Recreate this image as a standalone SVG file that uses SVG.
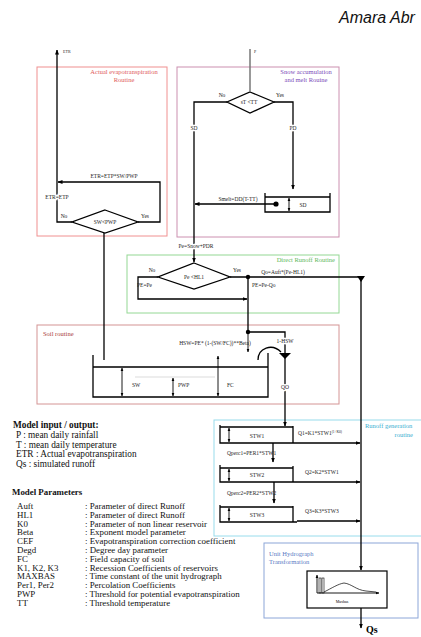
<svg xmlns="http://www.w3.org/2000/svg" width="421" height="637" viewBox="0 0 421 637">
<defs>
<marker id="a" viewBox="0 0 10 10" refX="9" refY="5" markerWidth="5" markerHeight="5" markerUnits="userSpaceOnUse" orient="auto-start-reverse"><path d="M0,1 L10,5 L0,9z" fill="#000"/></marker>
<marker id="s" viewBox="0 0 10 10" refX="9" refY="5" markerWidth="3.5" markerHeight="3.5" markerUnits="userSpaceOnUse" orient="auto-start-reverse"><path d="M0,1 L10,5 L0,9z" fill="#000"/></marker>
</defs>
<style>
.ln{fill:none;stroke:#000;stroke-width:1.3}
.th{fill:none;stroke:#000;stroke-width:0.9}
.bx{fill:none;stroke-width:1}
.t{font-family:"Liberation Serif",serif;font-size:5.5px;fill:#222}
.h{paint-order:stroke;stroke:#fff;stroke-width:2.5}
.ti{font-family:"Liberation Serif",serif;font-size:6.5px}
.p{font-family:"Liberation Serif",serif;font-size:8.9px;fill:#111}
.pi{font-family:"Liberation Serif",serif;font-size:9.3px;fill:#111}
.b{font-weight:bold}
</style>
<rect width="421" height="637" fill="#fff"/>
<text x="339" y="23" style="font-family:'Liberation Sans',sans-serif;font-style:italic;font-size:16px" fill="#111">Amara Abr</text>

<g id="boxes">
<g id="evap-routine"><rect class="bx" x="37" y="67" width="130" height="169" stroke="#f09090"/>
<text class="ti" x="124" y="74" text-anchor="middle" fill="#e05a5a">Actual evapotranspiration</text>
<text class="ti" x="124" y="82" text-anchor="middle" fill="#e05a5a">Routine</text></g>
<g id="snow-routine"><rect class="bx" x="177" y="67" width="162" height="170" stroke="#cc90b0"/>
<text class="ti" x="306" y="74" text-anchor="middle" fill="#7a4ab8">Snow accumulation</text>
<text class="ti" x="306" y="82" text-anchor="middle" fill="#7a4ab8">and melt Rouine</text></g>
<g id="direct-runoff"><rect class="bx" x="127" y="255" width="212" height="58" stroke="#94d894"/>
<text class="ti" x="335" y="262" text-anchor="end" fill="#5cb85c">Direct Runoff Routine</text></g>
<g id="soil-routine"><rect class="bx" x="37" y="325" width="302" height="79" stroke="#d49494"/>
<text class="ti" x="43" y="336" fill="#a83a3a">Soil routine</text></g>
<g id="runoff-generation"><rect class="bx" x="214" y="420" width="212" height="116" stroke="#98dcec"/>
<text class="ti" x="365" y="428" fill="#3aaed0">Runoff generation</text>
<text class="ti" x="413" y="437" text-anchor="end" fill="#3aaed0">routine</text></g>
<g id="unit-hydrograph"><rect class="bx" x="264" y="543" width="154" height="75" stroke="#8ca6d8"/>
<text class="ti" x="269" y="556" fill="#5a7cc4">Unit Hydrograph</text>
<text class="ti" x="269" y="564" fill="#5a7cc4">Transformation</text></g>
</g>

<g id="nodes">
<g id="d-sw"><polygon class="ln" fill="#fff" points="105,210 138,222 105,233 72,222"/>
<text class="t" x="105" y="224" text-anchor="middle">SW&lt;PWP</text></g>
<g id="d-t"><polygon class="ln" fill="#fff" points="250,92 274,102 250,113 227,102"/>
<text class="t" x="249" y="104" text-anchor="middle">sT &lt;TT</text></g>
<g id="d-pe"><polygon class="ln" fill="#fff" points="194,263 230,277 194,289 158,277"/>
<text class="t" x="194" y="279" text-anchor="middle">Pe &lt;HL1</text></g>
<g id="snow-tank"><path class="ln" d="M265,193 V212 H330 V193 M265,197 H330"/>
<path class="th" d="M289,198 V211" marker-start="url(#s)" marker-end="url(#s)"/>
<circle cx="276" cy="204" r="2.6" fill="#000"/>
<text class="t" x="303" y="207" text-anchor="middle">SD</text></g>
<g id="soil-tank"><path class="ln" d="M93,355 V397 H268 V353 M93,367 H268"/>
<path d="M135,377 H215" stroke="#ccc" stroke-width="0.7"/>
<path class="th" d="M122,368 V396" marker-start="url(#s)" marker-end="url(#s)"/>
<path class="th" d="M173,378 V396" marker-start="url(#s)" marker-end="url(#s)"/>
<path class="th" d="M218,356 V396" marker-start="url(#s)" marker-end="url(#s)"/>
<text class="t" x="132" y="387">SW</text><text class="t" x="178" y="387">PWP</text><text class="t" x="227" y="387">FC</text></g>
<g id="stw1"><path class="ln" d="M220,425 V443 H293 V426 M220,427 H293 M293,443 H297"/>
<path class="th" d="M229,428 V442" marker-start="url(#s)" marker-end="url(#s)"/>
<text class="t" x="257" y="438" text-anchor="middle">STW1</text></g>
<g id="stw2"><path class="ln" d="M220,465 V482 H293 V466 M220,468 H293 M293,482 H297"/>
<path class="th" d="M229,469 V481" marker-start="url(#s)" marker-end="url(#s)"/>
<text class="t" x="257" y="477" text-anchor="middle">STW2</text></g>
<g id="stw3"><path class="ln" d="M220,505 V522 H293 V506 M220,507 H293 M293,522 H297"/>
<path class="th" d="M229,508 V521" marker-start="url(#s)" marker-end="url(#s)"/>
<text class="t" x="257" y="517" text-anchor="middle">STW3</text></g>
<g id="uh"><rect x="307" y="571" width="80" height="37" fill="#fff" stroke="#000" stroke-width="1.2"/>
<path class="th" d="M317,593 V575" marker-end="url(#s)"/>
<path class="th" d="M317,593 H379" marker-end="url(#s)"/>
<rect x="319" y="578" width="2" height="15" fill="none" stroke="#000" stroke-width="0.6"/>
<rect x="322" y="578" width="2" height="15" fill="none" stroke="#000" stroke-width="0.6"/>
<path d="M324,592 C332,588 338,584 344,583 C352,584 356,590 366,591 L376,592" fill="none" stroke="#000" stroke-width="0.7"/>
<text x="342" y="603" text-anchor="middle" style="font-family:'Liberation Serif',serif;font-size:4px">Maxbas</text></g>
</g>

<g id="connectors">
<path class="ln" d="M72,222 H57 V50" marker-end="url(#a)"/>
<path class="ln" d="M138,222 H160 V182 H58" marker-end="url(#a)"/>
<path class="ln" d="M104,233 V360"/>
<path d="M250,49 V92" fill="none" stroke="#777" stroke-width="1.5"/>
<path class="ln" d="M227,102 H194 V262" marker-end="url(#a)"/>
<path class="ln" d="M274,102 H293 V189" marker-end="url(#a)"/>
<path class="ln" d="M276,204 H195" marker-end="url(#a)"/>
<path class="ln" d="M158,277 H138 V299 H247" marker-end="url(#a)"/>
<path class="ln" d="M230,277 H361 V570" marker-end="url(#a)"/>
<path d="M357,276 L365,276 L361,282z" fill="#000"/>
<circle cx="248" cy="277" r="2.2" fill="#000"/>
<path class="ln" d="M248,277 V332 H285 V354"/>
<circle cx="248" cy="332" r="2.2" fill="#000"/>
<path class="th" d="M248,332 V352" marker-end="url(#s)"/>
<path d="M279,353 L291,353 L285,359z" fill="#000"/>
<path class="ln" d="M258,360 C258,348 272,343 281,352"/>
<path class="ln" d="M285,358 V426" marker-end="url(#a)"/>
<path class="ln" d="M273,443 V462" marker-end="url(#a)"/>
<path class="ln" d="M274,482 V503" marker-end="url(#a)"/>
<path class="ln" d="M297,443 H360" marker-end="url(#a)"/>
<path class="ln" d="M297,482 H360" marker-end="url(#a)"/>
<path class="ln" d="M297,521 H360" marker-end="url(#a)"/>
<path class="ln" d="M361,608 V628" marker-end="url(#a)"/>
</g>

<g id="labels">
<text class="t" x="63" y="53" style="font-size:4px">ETR</text>
<text class="t" x="254" y="53" style="font-size:4px">P</text>
<text class="t" x="114" y="178" text-anchor="middle">ETR=ETP*SW/PWP</text>
<text class="t h" x="57" y="199" text-anchor="middle">ETR=ETP</text>
<text class="t" x="64" y="218" text-anchor="middle">No</text>
<text class="t" x="145" y="218" text-anchor="middle">Yes</text>
<text class="t" x="222" y="97" text-anchor="middle">No</text>
<text class="t" x="280" y="97" text-anchor="middle">Yes</text>
<text class="t h" x="194" y="130" text-anchor="middle">SD</text>
<text class="t h" x="293" y="130" text-anchor="middle">PD</text>
<text class="t" x="238" y="201" text-anchor="middle">Smelt=DD(T-TT)</text>
<text class="t h" x="196" y="248" text-anchor="middle">Pe=Snow+PDR</text>
<text class="t" x="152" y="272" text-anchor="middle">No</text>
<text class="t" x="237" y="272" text-anchor="middle">Yes</text>
<text class="t" x="137" y="287">PE=Pe</text>
<text class="t" x="283" y="274" text-anchor="middle">Qo=Auft*(Pe-HL1)</text>
<text class="t" x="252" y="287">PE=Pe-Qo</text>
<text class="t" x="215" y="345" text-anchor="middle">HSW=PE* (1-(SW/FC))**Beta)</text>
<text class="t h" x="285" y="343" text-anchor="middle">1-HSW</text>
<text class="t h" x="285" y="389" text-anchor="middle">QO</text>
<text class="t" x="298" y="435">Q1=K1*STW1<tspan dy="-2" style="font-size:3.5px">(1+K0)</tspan></text>
<text class="t" x="227" y="455">Qperc1=PER1*STW1</text>
<text class="t" x="305" y="474">Q2=K2*STW1</text>
<text class="t" x="227" y="495">Qperc2=PER2*STW2</text>
<text class="t" x="305" y="513">Q3=K3*STW3</text>
<text x="366" y="633" style="font-family:'Liberation Serif',serif;font-size:10px;font-weight:bold">Qs</text>
</g>

<g id="legend">
<text class="pi b" x="13" y="428">Model input / output:</text>
<text class="pi" x="16" y="438">P : mean daily rainfall</text>
<text class="pi" x="16" y="447.5">T : mean daily temperature</text>
<text class="pi" x="16" y="457">ETR : Actual evapotranspiration</text>
<text class="pi" x="16" y="466.5">Qs : simulated runoff</text>
<text class="p b" x="12" y="495">Model Parameters</text>
<text class="p" x="17" y="509">Auft</text><text class="p" x="85" y="509">: Parameter of direct Runoff</text>
<text class="p" x="17" y="517.8">HL1</text><text class="p" x="85" y="517.8">: Parameter of direct Runoff</text>
<text class="p" x="17" y="526.6">K0</text><text class="p" x="85" y="526.6">: Parameter of non linear reservoir</text>
<text class="p" x="17" y="535.4">Beta</text><text class="p" x="85" y="535.4">: Exponent model parameter</text>
<text class="p" x="17" y="544.2">CEF</text><text class="p" x="85" y="544.2">: Evapotranspiration correction coefficient</text>
<text class="p" x="17" y="553">Degd</text><text class="p" x="85" y="553">: Degree day parameter</text>
<text class="p" x="17" y="561.8">FC</text><text class="p" x="85" y="561.8">: Field capacity of soil</text>
<text class="p" x="17" y="570.6">K1, K2, K3</text><text class="p" x="85" y="570.6">: Recession Coefficients of reservoirs</text>
<text class="p" x="17" y="579.4">MAXBAS</text><text class="p" x="85" y="579.4">: Time constant of the unit hydrograph</text>
<text class="p" x="17" y="588.2">Per1, Per2</text><text class="p" x="85" y="588.2">: Percolation Coefficients</text>
<text class="p" x="17" y="597">PWP</text><text class="p" x="85" y="597">: Threshold for potential evapotranspiration</text>
<text class="p" x="17" y="605.8">TT</text><text class="p" x="85" y="605.8">: Threshold temperature</text>
</g>
</svg>
